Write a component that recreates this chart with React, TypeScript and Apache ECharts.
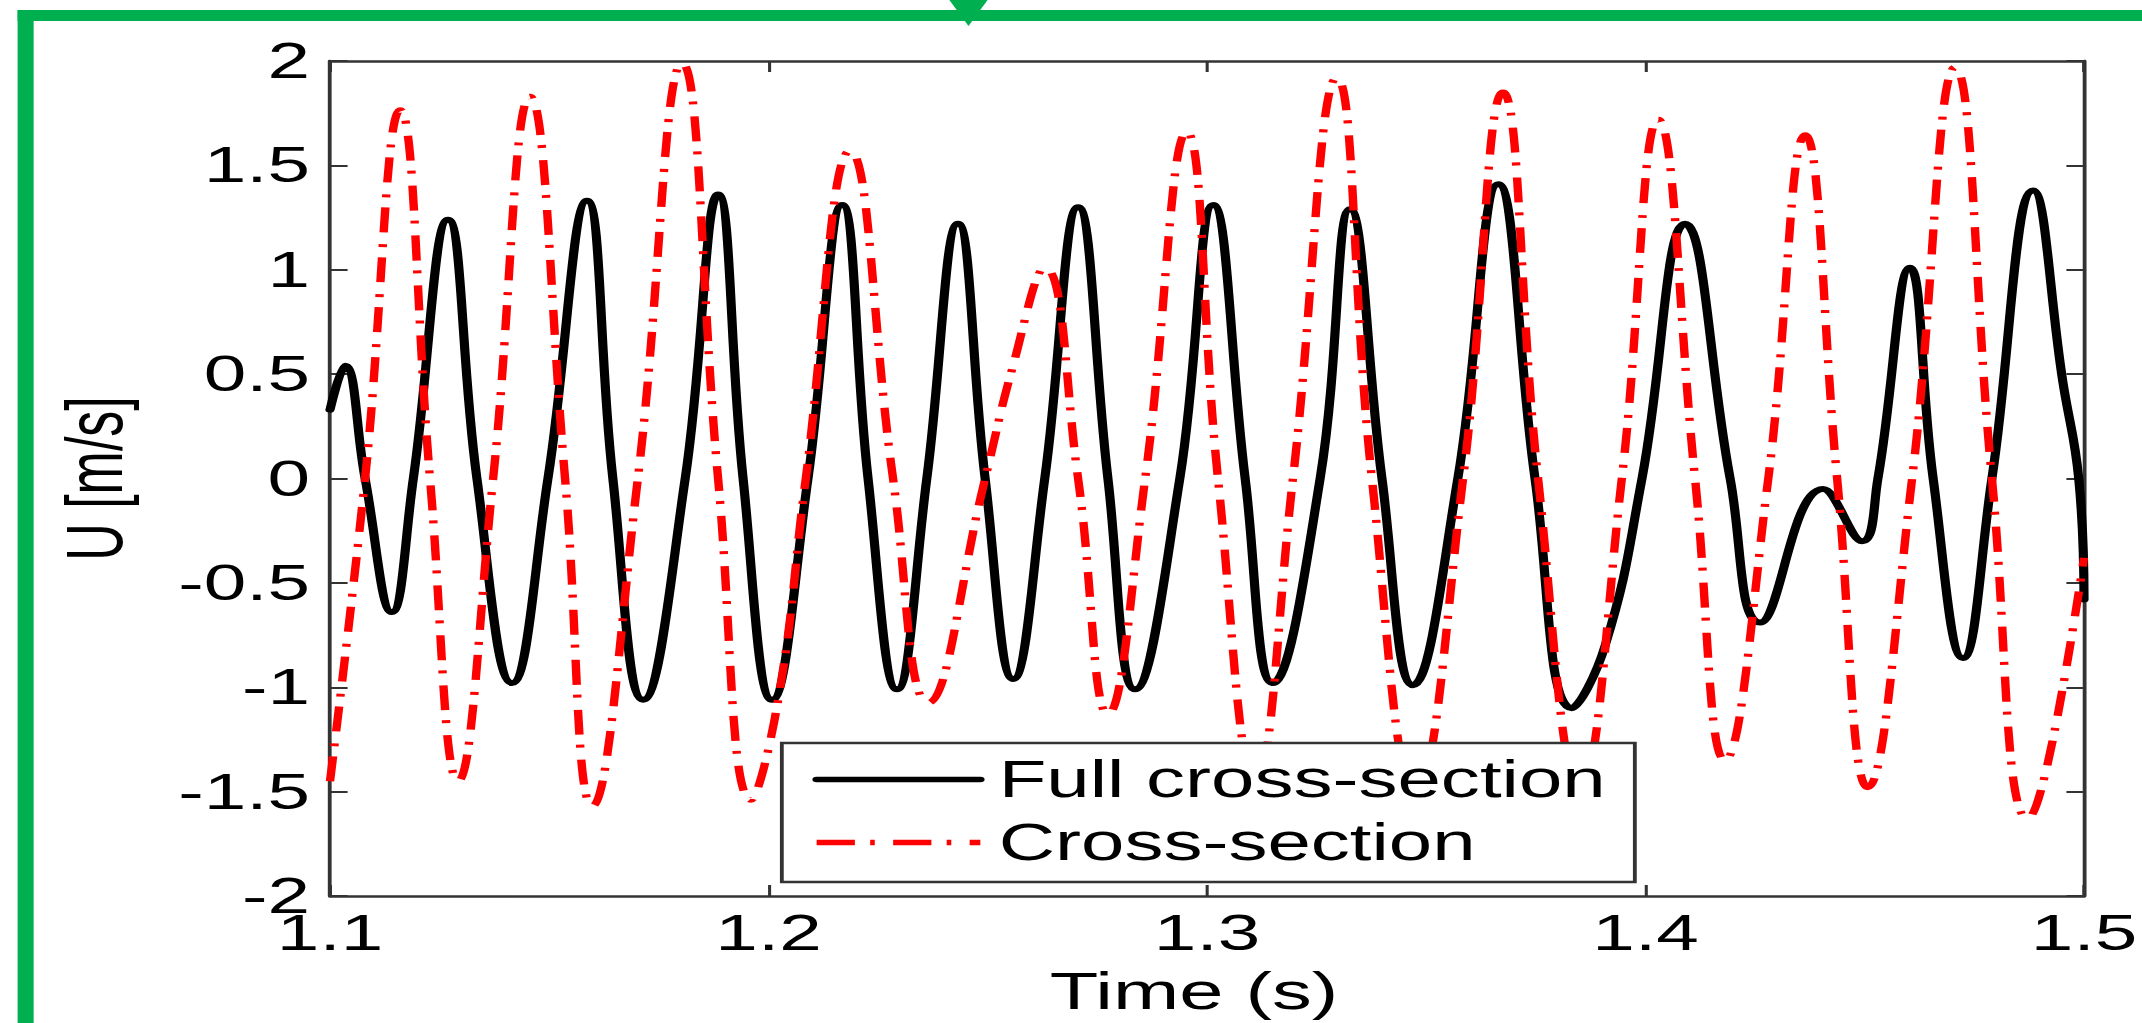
import React, { useEffect, useRef } from 'react';
import * as echarts from 'echarts';

// Tick labels
const X_TICKS = ['1.1', '1.2', '1.3', '1.4', '1.5'];
const Y_TICKS = ['-2', '-1.5', '-1', '-0.5', '0', '0.5', '1', '1.5', '2'];

// Series names
const SERIES_NAMES = ['Full cross-section', 'Cross-section'];

// Full cross-section (black solid): time [s] and U [m/s]
const FULL_T = [
  1.1, 1.1034, 1.108, 1.1141, 1.119, 1.1269, 1.1335, 1.1415, 1.1497, 1.1586,
  1.1645, 1.1714, 1.181, 1.1885, 1.1942, 1.2008, 1.209, 1.2168, 1.2227, 1.2293,
  1.2361, 1.2432, 1.2494, 1.2558, 1.263, 1.2706, 1.2774, 1.2836, 1.2938, 1.3014,
  1.3087, 1.315, 1.3258, 1.3326, 1.3399, 1.347, 1.3572, 1.3664, 1.3748, 1.3832,
  1.3908, 1.3992, 1.409, 1.4193, 1.4261, 1.4405, 1.4494, 1.453, 1.4603,
  1.4656, 1.4724, 1.479, 1.4884, 1.4952, 1.4988, 1.5,
];
const FULL_U = [
  0.33, 0.54, 0.0, -0.64, 0.0, 1.24, 0.0, -0.98, 0.0, 1.33,
  0.0, -1.06, 0.0, 1.36, 0.0, -1.06, 0.0, 1.31, 0.0, -1.01,
  0.0, 1.22, 0.0, -0.96, 0.0, 1.3, 0.0, -1.01, 0.0, 1.31,
  0.0, -0.98, 0.0, 1.29, 0.0, -0.99, 0.0, 1.41, 0.0, -1.1,
  -0.8, 0.0, 1.22, 0.0, -0.69, -0.05, -0.3, 0.0, 1.01,
  0.0, -0.86, 0.0, 1.38, 0.46, 0.0, -0.58,
];

// Cross-section (red dash-dot): time [s] and U [m/s]
const CROSS_T = [
  1.1, 1.108, 1.116, 1.1228, 1.1292, 1.1372, 1.1456, 1.1536, 1.1598, 1.1702,
  1.1803, 1.1885, 1.196, 1.2022, 1.2085, 1.2186, 1.2284, 1.2364, 1.2494, 1.2555,
  1.263, 1.2706, 1.2774, 1.2859, 1.2954, 1.3025, 1.311, 1.3196, 1.3296, 1.3376,
  1.3475, 1.3584, 1.3675, 1.3755, 1.385, 1.3946, 1.4029, 1.4113, 1.4181, 1.428,
  1.4364, 1.4437, 1.4507, 1.4608, 1.4706, 1.479, 1.4872, 1.5,
];
const CROSS_U = [
  -1.45, 0.0, 1.765, 0.0, -1.45, 0.0, 1.83, 0.0, -1.57, 0.0,
  1.99, 0.0, -1.54, -1.06, 0.0, 1.57, 0.0, -1.075, 0.0, 0.52,
  1.01, 0.0, -1.13, 0.0, 1.66, 0.0, -1.45, 0.0, 1.92, 0.0,
  -1.5, 0.0, 1.85, 0.0, -1.48, 0.0, 1.72, 0.0, -1.35, 0.0,
  1.645, 0.0, -1.48, 0.0, 1.97, 0.0, -1.63, -0.38,
];

const W = 2142;
const H = 1023;
const STRETCH = 1.53;
const IW = W / STRETCH;
const FONT = '"Liberation Sans", Arial, Helvetica, sans-serif';
const AX = '#333333';
const GREEN = '#00B050';

export default function App() {
  const ref = useRef<HTMLDivElement>(null);

  useEffect(() => {
    if (!ref.current) return;
    const chart = echarts.init(ref.current, null, { renderer: 'svg' });
    const xMin = parseFloat(X_TICKS[0]);
    const xMax = parseFloat(X_TICKS[X_TICKS.length - 1]);
    const xInt = parseFloat(X_TICKS[1]) - parseFloat(X_TICKS[0]);
    const yMin = parseFloat(Y_TICKS[0]);
    const yMax = parseFloat(Y_TICKS[Y_TICKS.length - 1]);
    const yInt = parseFloat(Y_TICKS[1]) - parseFloat(Y_TICKS[0]);

    const xLabel = (v: number) => {
      const i = Math.round((v - xMin) / xInt);
      return X_TICKS[i] ?? '';
    };
    const yLabel = (v: number) => {
      const i = Math.round((v - yMin) / yInt);
      return Y_TICKS[i] ?? '';
    };

    const axisLine = { show: true, onZero: false, lineStyle: { color: AX, width: 2.5 } };

    chart.setOption({
      animation: false,
      backgroundColor: '#ffffff',
      grid: { left: 215.7, right: IW - 2084 / STRETCH, top: 61, bottom: H - 896, containLabel: false },
      graphic: [
        { type: 'rect', shape: { x: 11.5, y: 10, width: IW, height: 11 }, style: { fill: GREEN } },
        { type: 'rect', shape: { x: 11.5, y: 10, width: 10.5, height: H }, style: { fill: GREEN } },
        { type: 'polygon', shape: { points: [[620.5, 0], [645.5, 0], [633, 26]] }, style: { fill: GREEN } },
      ],
      legend: {
        data: SERIES_NAMES,
        orient: 'vertical',
        left: 511,
        top: 743,
        padding: [11, 19, 14, 20],
        itemGap: 12,
        itemWidth: 107,
        itemHeight: 14,
        backgroundColor: '#ffffff',
        borderColor: AX,
        borderWidth: 2.5,
        borderRadius: 0,
        itemStyle: { opacity: 0, borderWidth: 0 },
        lineStyle: { width: 5.5 },
        textStyle: { fontSize: 51, fontFamily: FONT, color: '#000', lineHeight: 51, padding: [0, 0, 0, 7] },
      },
      xAxis: [
        {
          type: 'value', min: xMin, max: xMax, interval: xInt, position: 'bottom',
          axisLine,
          axisTick: { show: true, inside: true, length: 11, lineStyle: { color: AX, width: 2 } },
          axisLabel: { margin: 12, fontSize: 50, fontFamily: FONT, color: '#000', formatter: xLabel },
          splitLine: { show: false },
          name: 'Time (s)', nameLocation: 'middle', nameGap: 69,
          nameTextStyle: { fontSize: 52, fontFamily: FONT, color: '#000', padding: [0, 17, 0, 0] },
        },
        {
          type: 'value', min: xMin, max: xMax, interval: xInt, position: 'top',
          axisLine,
          axisTick: { show: true, inside: true, length: 11, lineStyle: { color: AX, width: 2 } },
          axisLabel: { show: false },
          splitLine: { show: false },
        },
      ],
      yAxis: [
        {
          type: 'value', min: yMin, max: yMax, interval: yInt, position: 'left',
          axisLine,
          axisTick: { show: true, inside: true, length: 11.5, lineStyle: { color: AX, width: 2 } },
          axisLabel: { margin: 13, fontSize: 50, fontFamily: FONT, color: '#000', formatter: yLabel },
          splitLine: { show: false },
          name: 'U [m/s]', nameLocation: 'middle', nameGap: 128,
          nameTextStyle: { fontSize: 52, fontFamily: FONT, color: '#000' },
        },
        {
          type: 'value', min: yMin, max: yMax, interval: yInt, position: 'right',
          axisLine,
          axisTick: { show: true, inside: true, length: 11.5, lineStyle: { color: AX, width: 2 } },
          axisLabel: { show: false },
          splitLine: { show: false },
        },
      ],
      series: [
        {
          name: SERIES_NAMES[0], type: 'line', xAxisIndex: 0, yAxisIndex: 0,
          data: FULL_T.map((t, i) => [t, FULL_U[i]]),
          smooth: 0.45, symbol: 'none', showSymbol: false,
          lineStyle: { color: '#000000', width: 6, cap: 'round', join: 'round' },
          itemStyle: { color: '#000000' },
          z: 2,
        },
        {
          name: SERIES_NAMES[1], type: 'line', xAxisIndex: 0, yAxisIndex: 0,
          data: CROSS_T.map((t, i) => [t, CROSS_U[i]]),
          smooth: 0.45, symbol: 'none', showSymbol: false,
          lineStyle: { color: '#ff0000', width: 5.5, type: [25, 10, 3, 12], cap: 'butt' },
          itemStyle: { color: '#ff0000' },
          z: 3,
        },
      ],
    });
    return () => chart.dispose();
  }, []);

  return (
    <div style={{ position: 'absolute', left: 0, top: 0, width: W, height: H, overflow: 'hidden', background: '#fff' }}>
      <div
        ref={ref}
        style={{ width: IW, height: H, transform: `scaleX(${STRETCH})`, transformOrigin: '0 0' }}
      />
    </div>
  );
}
